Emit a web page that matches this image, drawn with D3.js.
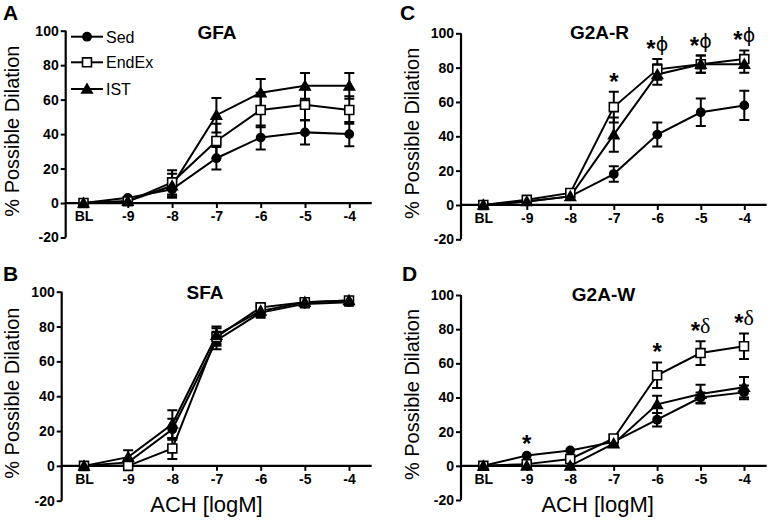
<!DOCTYPE html>
<html>
<head>
<meta charset="utf-8">
<script src="https://cdn.jsdelivr.net/npm/d3@7"></script>
<style>
  html, body { margin: 0; padding: 0; background: #fff; }
  svg { display: block; font-family: "Liberation Sans", Arial, sans-serif; }
</style>
</head>
<body>
<svg id="chart" width="775" height="523"></svg>
<script>
// ---------- data ----------
const categories = ["BL", "-9", "-8", "-7", "-6", "-5", "-4"];
const doses = [-10, -9, -8, -7, -6, -5, -4];
const seriesNames = ["Sed", "EndEx", "IST"];
const yTicks = [-20, 0, 20, 40, 60, 80, 100];
const yTickLabels = ["-20", "0", "20", "40", "60", "80", "100"];

// GFA
const gfaSed = [0, 3, 8, 26, 38, 41, 40];
const gfaSedErr = [0, 1, 4, 6.5, 7, 7, 7];
const gfaEndEx = [0, 1, 12, 36, 54, 57, 54];
const gfaEndExErr = [0, 1, 7, 10, 10, 9, 8];
const gfaIST = [0, 1, 10, 51, 64, 68, 68];
const gfaISTErr = [0, 1, 7, 10, 8, 7.5, 7.5];

// SFA
const sfaSed = [0, 2, 21, 72, 88, 93, 94];
const sfaSedErr = [0, 2, 6, 5, 3, 2, 2];
const sfaEndEx = [0, 0, 10, 74, 91, 94, 95];
const sfaEndExErr = [0, 1, 6, 5, 2, 2, 2];
const sfaIST = [0, 5, 24, 75, 89, 94, 95];
const sfaISTErr = [0, 4, 8, 5, 3, 2, 2];

// G2A-R
const g2arSed = [0, 2, 5, 18, 41, 54, 58];
const g2arSedErr = [0, 1, 1, 4.5, 7, 8, 8.5];
const g2arEndEx = [0, 3, 7, 57, 79, 82, 85];
const g2arEndExErr = [0, 1, 1, 9, 6, 5, 5];
const g2arIST = [0, 2, 5, 41, 76, 82, 82];
const g2arISTErr = [0, 1, 1, 10, 6, 5, 5];
const g2arMarkDose = [-7, -6, -5, -4];
const g2arMarkStar = ["*", "*", "*", "*"];
const g2arMarkSym = ["", "ϕ", "ϕ", "ϕ"];

// G2A-W
const g2awSed = [0, 6, 9, 14, 27, 40, 43];
const g2awSedErr = [0, 1, 1, 2, 4, 3, 4];
const g2awEndEx = [0, 1, 4, 16, 53, 66, 70];
const g2awEndExErr = [0, 1, 1, 2, 7.5, 7, 7.5];
const g2awIST = [0, 0, 0, 13, 36, 42, 46];
const g2awISTErr = [0, 1, 1, 2, 5, 5.5, 6];
const g2awMarkDose = [-9, -6, -5, -4];
const g2awMarkStar = ["*", "*", "*", "*"];
const g2awMarkSym = ["", "", "δ", "δ"];

// ---------- layout ----------
const svg = d3.select("#chart");

const panels = [
  { letter: "A", title: "GFA", axisL: 65.7, axisR: 371.7, x0: 83.5, x1: 349.3, yTop: 30.7, yBot: 237.5,
    letterX: 3, letterY: 20, titleX: 217, titleY: 39, ylabX: 19, xlab: false, legend: true,
    series: [[gfaSed, gfaSedErr], [gfaEndEx, gfaEndExErr], [gfaIST, gfaISTErr]], marks: null },
  { letter: "B", title: "SFA", axisL: 61.7, axisR: 371.7, x0: 84, x1: 349, yTop: 291.7, yBot: 500.7,
    letterX: 3, letterY: 281, titleX: 205, titleY: 299, ylabX: 19, xlab: true, legend: false,
    series: [[sfaSed, sfaSedErr], [sfaEndEx, sfaEndExErr], [sfaIST, sfaISTErr]], marks: null },
  { letter: "C", title: "G2A-R", axisL: 461, axisR: 766.7, x0: 483.3, x1: 744.3, yTop: 33.3, yBot: 239.3,
    letterX: 400, letterY: 20, titleX: 599.5, titleY: 39, ylabX: 419, xlab: false, legend: false,
    series: [[g2arSed, g2arSedErr], [g2arEndEx, g2arEndExErr], [g2arIST, g2arISTErr]],
    marks: [g2arMarkDose, g2arMarkStar, g2arMarkSym] },
  { letter: "D", title: "G2A-W", axisL: 461, axisR: 766.7, x0: 483.3, x1: 744, yTop: 295, yBot: 500,
    letterX: 402, letterY: 281, titleX: 603.5, titleY: 301, ylabX: 419, xlab: true, legend: false,
    series: [[g2awSed, g2awSedErr], [g2awEndEx, g2awEndExErr], [g2awIST, g2awISTErr]],
    marks: [g2awMarkDose, g2awMarkStar, g2awMarkSym] }
];

const symCircle = d3.symbol().type(d3.symbolCircle).size(75);
const symSquare = d3.symbol().type(d3.symbolSquare).size(80);
const symTri = d3.symbol().type(d3.symbolTriangle).size(75);

function drawMarker(g, idx, x, y) {
  if (idx === 0) {
    g.append("path").attr("d", symCircle()).attr("transform", `translate(${x},${y})`).attr("fill", "#000");
  } else if (idx === 1) {
    g.append("path").attr("d", symSquare()).attr("transform", `translate(${x},${y})`)
      .attr("fill", "#fff").attr("stroke", "#000").attr("stroke-width", 1.6);
  } else {
    g.append("path").attr("d", symTri()).attr("transform", `translate(${x},${y + 1})`).attr("fill", "#000");
  }
}

panels.forEach(p => {
  const g = svg.append("g");
  const x = d3.scaleLinear().domain([-10, -4]).range([p.x0, p.x1]);
  const y = d3.scaleLinear().domain([-20, 100]).range([p.yBot, p.yTop]);

  // panel letter & title
  g.append("text").attr("x", p.letterX).attr("y", p.letterY).attr("font-size", 21)
    .attr("font-weight", "bold").text(p.letter);
  g.append("text").attr("x", p.titleX).attr("y", p.titleY).attr("font-size", 19)
    .attr("font-weight", "bold").attr("text-anchor", "middle").text(p.title);

  // y axis
  const yAxis = d3.axisLeft(y).tickValues(yTicks).tickSize(5).tickPadding(2)
    .tickFormat((d, i) => yTickLabels[i]);
  const ya = g.append("g").attr("transform", `translate(${p.axisL},0)`).call(yAxis);
  ya.select(".domain").attr("stroke-width", 2.2).attr("d", `M0,${y(-20)}V${y(100)}`);
  ya.selectAll(".tick line").attr("stroke-width", 2);
  ya.selectAll(".tick text").attr("font-size", 14).attr("font-weight", "bold")
    .attr("font-family", "Liberation Sans, Arial, sans-serif").attr("fill", "#000");

  // x axis at y=0
  const xAxis = d3.axisBottom(x).tickValues(doses).tickSize(5).tickPadding(3)
    .tickFormat((d, i) => categories[i]);
  const xa = g.append("g").attr("transform", `translate(0,${y(0)})`).call(xAxis);
  xa.select(".domain").attr("stroke-width", 2.2).attr("d", `M${p.axisL},0H${p.axisR}`);
  xa.selectAll(".tick line").attr("stroke-width", 2);
  xa.selectAll(".tick text").attr("font-size", 14).attr("font-weight", "bold")
    .attr("font-family", "Liberation Sans, Arial, sans-serif").attr("fill", "#000");

  // y label
  const ymid = (y(-20) + y(100)) / 2 - 3;
  g.append("text").attr("transform", `translate(${p.ylabX},${ymid}) rotate(-90)`)
    .attr("text-anchor", "middle").attr("font-size", 20).text("% Possible Dilation");

  // x label
  if (p.xlab) {
    g.append("text").attr("x", (p.x0 + p.x1) / 2 + (p.letter === "B" ? -10 : -16)).attr("y", 512)
      .attr("text-anchor", "middle").attr("font-size", 22).text("ACH [logM]");
  }

  // error bars
  p.series.forEach(([vals, errs]) => {
    vals.forEach((v, i) => {
      const e = errs[i];
      if (e <= 1) return;
      const cx = x(doses[i]);
      g.append("path")
        .attr("d", `M${cx},${y(v - e)}V${y(v + e)}M${cx - 5},${y(v + e)}H${cx + 5}M${cx - 5},${y(v - e)}H${cx + 5}`)
        .attr("stroke", "#000").attr("stroke-width", 2).attr("fill", "none");
    });
  });

  // lines
  const line = d3.line().x((d, i) => x(doses[i])).y(d => y(d));
  p.series.forEach(([vals]) => {
    g.append("path").attr("d", line(vals)).attr("fill", "none").attr("stroke", "#000").attr("stroke-width", 2);
  });

  // markers
  p.series.forEach(([vals], si) => {
    vals.forEach((v, i) => drawMarker(g, si, x(doses[i]), y(v)));
  });

  // significance marks
  if (p.marks) {
    const [md, ms, msym] = p.marks;
    md.forEach((d, k) => {
      const i = doses.indexOf(d);
      const top = d3.max(p.series, ([vals, errs]) => vals[i] + errs[i]);
      const cy = y(top) - 16;
      const cx = x(d);
      const t = g.append("text").attr("y", cy + 14).attr("x", cx).attr("text-anchor", "middle");
      t.append("tspan").attr("font-size", 24).attr("font-weight", "bold").text(ms[k]);
      if (msym[k]) {
        const isPhi = msym[k] === "ϕ";
        t.append("tspan").attr("dy", -6).attr("font-size", isPhi ? 19 : 22)
          .attr("font-family", isPhi ? "DejaVu Sans" : "Liberation Serif").text(msym[k]);
      }
    });
  }

  // legend
  if (p.legend) {
    const ly = [36.7, 62.3, 89];
    seriesNames.forEach((name, si) => {
      g.append("line").attr("x1", 71).attr("x2", 103).attr("y1", ly[si]).attr("y2", ly[si])
        .attr("stroke", "#000").attr("stroke-width", 2);
      drawMarker(g, si, 87, ly[si]);
      g.append("text").attr("x", 106).attr("y", ly[si] + 6).attr("font-size", 16).text(name);
    });
  }
});
</script>
</body>
</html>
